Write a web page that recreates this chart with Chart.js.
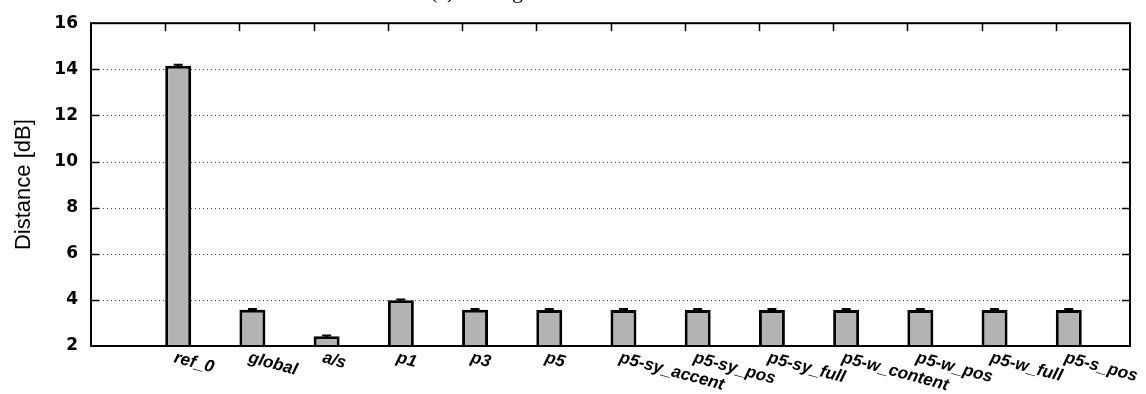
<!DOCTYPE html>
<html>
<head>
<meta charset="utf-8">
<script src="https://cdn.jsdelivr.net/npm/chart.js@4.4.1/dist/chart.umd.min.js"></script>
<style>
  html, body { margin: 0; padding: 0; background: #fff; }
  #wrap { width: 1146px; height: 394px; position: relative; }
</style>
</head>
<body>
<div id="wrap"><canvas id="distChart"></canvas></div>
<script>
const categories = ['ref_0', 'global', 'a/s', 'p1', 'p3', 'p5', 'p5-sy_accent', 'p5-sy_pos',
    'p5-sy_full', 'p5-w_content', 'p5-w_pos', 'p5-w_full', 'p5-s_pos'];
const distances = [14.15, 3.57, 2.42, 3.98, 3.57, 3.56, 3.56, 3.56, 3.56, 3.56, 3.56, 3.56, 3.56];
const errors = [0.05, 0.04, 0.04, 0.04, 0.04, 0.04, 0.04, 0.04, 0.04, 0.04, 0.04, 0.04, 0.04];
const yTicks = [2, 4, 6, 8, 10, 12, 14, 16];
const titleText = '(a) Average';

// gnuplot style frame, inward ticks, dotted grid, error bars, rotated labels
const gnuplotLook = {
    id: 'gnuplotLook',
    beforeDatasetsDraw(chart) {
        const { ctx, chartArea: a, scales: { y } } = chart;
        ctx.save();
        ctx.strokeStyle = '#444';
        ctx.lineWidth = 1;
        ctx.setLineDash([1, 3]);
        yTicks.slice(1, -1).forEach(v => {
            const py = Math.round(y.getPixelForValue(v)) + 0.5;
            ctx.beginPath();
            ctx.moveTo(a.left, py);
            ctx.lineTo(a.right, py);
            ctx.stroke();
        });
        ctx.restore();
    },
    afterDatasetsDraw(chart) {
        const { ctx, chartArea: a, scales: { x, y } } = chart;
        ctx.save();

        // error bars
        const meta = chart.getDatasetMeta(1);
        ctx.strokeStyle = '#000';
        ctx.lineWidth = 2;
        meta.data.forEach((bar, i) => {
            const top = y.getPixelForValue(distances[i] + errors[i]);
            const bot = y.getPixelForValue(distances[i] - errors[i]);
            ctx.beginPath();
            ctx.moveTo(bar.x, top);
            ctx.lineTo(bar.x, bot);
            ctx.moveTo(bar.x - 4.5, top);
            ctx.lineTo(bar.x + 4.5, top);
            ctx.stroke();
        });

        // frame
        ctx.lineWidth = 2;
        ctx.strokeRect(a.left, a.top, a.right - a.left, a.bottom - a.top);

        // inward ticks
        ctx.lineWidth = 1.5;
        yTicks.slice(1, -1).forEach(v => {
            const py = Math.round(y.getPixelForValue(v)) + 0.5;
            ctx.beginPath();
            ctx.moveTo(a.left, py);
            ctx.lineTo(a.left + 8, py);
            ctx.moveTo(a.right, py);
            ctx.lineTo(a.right - 8, py);
            ctx.stroke();
        });
        categories.forEach((c, i) => {
            const px = Math.round(x.getPixelForValue(i)) + 0.5;
            ctx.beginPath();
            ctx.moveTo(px, a.top);
            ctx.lineTo(px, a.top + 8);
            ctx.stroke();
        });

        // x labels, rotated clockwise
        ctx.fillStyle = '#000';
        ctx.font = 'italic bold 17px "Liberation Sans", Arial, sans-serif';
        ctx.textAlign = 'left';
        ctx.textBaseline = 'alphabetic';
        categories.forEach((c, i) => {
            ctx.save();
            ctx.translate(x.getPixelForValue(i) + 8, a.bottom + 16);
            ctx.rotate(15 * Math.PI / 180);
            ctx.fillText(c, 0, 0);
            ctx.restore();
        });

        // title, mostly above the picture
        ctx.font = '22px "Liberation Serif", "DejaVu Serif", serif';
        ctx.fillText(titleText, 430, -2);

        ctx.restore();
    }
};

const ctx = document.getElementById('distChart').getContext('2d');
new Chart(ctx, {
    type: 'bar',
    data: {
        datasets: [{
            data: categories.map((c, i) => ({ x: i, y: null })),
            backgroundColor: 'rgba(0,0,0,0)'
        }, {
            data: categories.map((c, i) => ({ x: i, y: distances[i] })),
            backgroundColor: '#b3b3b3',
            borderColor: '#000',
            borderWidth: 3,
            borderSkipped: false
        }]
    },
    options: {
        responsive: true,
        maintainAspectRatio: false,
        animation: false,
        categoryPercentage: 0.7,
        barPercentage: 1,
        layout: { padding: { top: 20, right: 16, left: 0, bottom: 0 } },
        plugins: {
            legend: { display: false },
            tooltip: { enabled: false }
        },
        scales: {
            x: {
                type: 'linear',
                min: -1,
                max: 13,
                offset: false,
                grid: { display: false },
                border: { display: false },
                ticks: { display: false },
                afterFit(scale) { scale.height = 48; }
            },
            y: {
                min: 2,
                max: 16,
                grid: { display: false, drawTicks: false },
                border: { display: false },
                ticks: {
                    stepSize: 2,
                    padding: 13,
                    color: '#000',
                    font: { family: '"DejaVu Sans", sans-serif', size: 17, weight: 'bold' }
                },
                title: {
                    display: true,
                    text: 'Distance [dB]',
                    color: '#000',
                    padding: { top: 11, bottom: 0 },
                    font: { family: '"Liberation Sans", Arial, sans-serif', size: 22 }
                },
                afterFit(scale) { scale.width = 91; }
            }
        }
    },
    plugins: [gnuplotLook]
});
</script>
</body>
</html>
